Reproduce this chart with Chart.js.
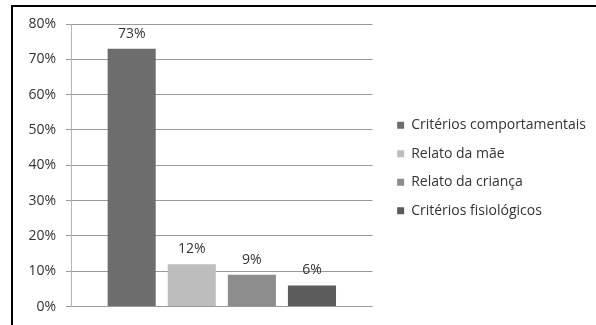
<!DOCTYPE html>
<html><head><meta charset="utf-8">
<script src="https://cdn.jsdelivr.net/npm/chart.js@4/dist/chart.umd.min.js"></script>
<style>html,body{margin:0;padding:0;background:#fff;}canvas{display:block}</style>
</head><body>
<canvas id="c" width="596" height="325"></canvas>
<script>
const categories = ['Critérios comportamentais', 'Relato da mãe', 'Relato da criança', 'Critérios fisiológicos'];
const values = [73, 12, 9, 6];
const colors = ['#6d6d6d', '#bdbdbd', '#8c8c8c', '#5c5c5c'];
const yMin = 0, yMax = 80, yStep = 10;

const FONT = '"Open Sans"';
const FSIZE = 14;
const TEXT = '#333333';

const datasets = categories.map((name, i) => ({
  label: name,
  data: [values[i]],
  backgroundColor: colors[i],
  borderWidth: 0,
  categoryPercentage: 0.797,
  barPercentage: 0.8
}));

const frame = {
  id: 'frame',
  afterDraw(chart) {
    const c = chart.ctx;
    c.save();
    c.strokeStyle = '#000';
    c.lineWidth = 2;
    c.beginPath();
    c.moveTo(12, 325);
    c.lineTo(12, 6);
    c.lineTo(596, 6);
    c.stroke();
    c.restore();
  }
};

const dataLabels = {
  id: 'dataLabels',
  afterDatasetsDraw(chart) {
    const c = chart.ctx;
    c.save();
    c.font = FSIZE + 'px ' + FONT;
    c.fillStyle = TEXT;
    c.textAlign = 'center';
    c.textBaseline = 'alphabetic';
    chart.data.datasets.forEach((ds, i) => {
      const meta = chart.getDatasetMeta(i);
      meta.data.forEach((bar, j) => {
        c.fillText(ds.data[j] + '%', bar.x, bar.y - 11);
      });
    });
    c.restore();
  }
};

new Chart(document.getElementById('c'), {
  type: 'bar',
  data: { labels: [''], datasets },
  plugins: [frame, dataLabels],
  options: {
    responsive: false,
    animation: false,
    layout: { padding: { left: 14, top: 24, bottom: 13, right: 0 } },
    plugins: {
      legend: {
        position: 'right',
        align: 'center',
        maxWidth: 400,
        labels: {
          boxWidth: 7, boxHeight: 7, padding: 14.5,
          color: TEXT,
          font: { family: FONT, size: FSIZE }
        }
      },
      tooltip: { enabled: false }
    },
    scales: {
      x: { display: false },
      y: {
        min: yMin, max: yMax,
        ticks: { stepSize: yStep, padding: 10, color: TEXT, font: { family: FONT, size: FSIZE },
                 callback: v => v + '%' },
        grid: { color: '#9a9a9a', tickLength: 5 },
        border: { color: '#b5b5b5' },
        afterFit(s) { s.width = 71 - 14; }
      },
      yR: {
        type: 'linear', position: 'right', display: true,
        grid: { display: false }, ticks: { display: false }, border: { display: false },
        afterFit(s) { s.width = 10; }
      }
    }
  }
});
</script>
</body></html>
